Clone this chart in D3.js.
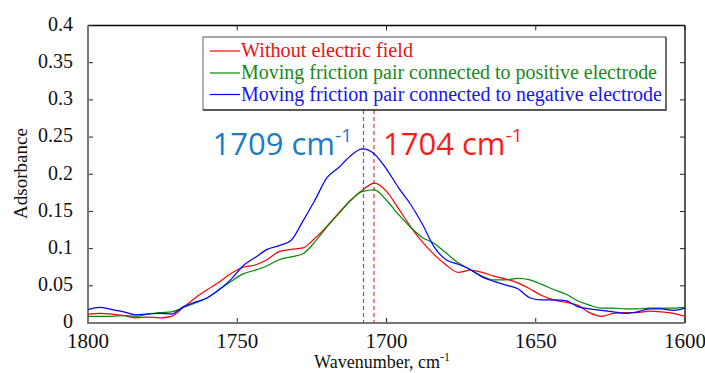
<!DOCTYPE html>
<html><head><meta charset="utf-8">
<script src="https://cdn.jsdelivr.net/npm/d3@7"></script>
<style>html,body{margin:0;padding:0;background:#fff;}svg{display:block;}</style>
</head><body>
<svg id="chart" width="705" height="373"></svg>
<script>
const wavenumbers = [1800,1796,1792,1788,1784,1780,1776,1772,1768,1764,1760,1756,1752,1748,1744,1740,1736,1732,1728,1724,1720,1716,1712,1708,1704,1700,1696,1692,1688,1684,1680,1676,1672,1668,1664,1660,1656,1652,1648,1644,1640,1636,1632,1628,1624,1620,1616,1612,1608,1604,1600];
const withoutField = [0.012,0.013,0.012,0.010,0.007,0.008,0.007,0.009,0.021,0.034,0.045,0.055,0.067,0.075,0.078,0.085,0.096,0.099,0.101,0.114,0.130,0.148,0.165,0.179,0.188,0.177,0.154,0.130,0.109,0.092,0.078,0.068,0.071,0.068,0.063,0.059,0.054,0.046,0.037,0.031,0.028,0.024,0.014,0.009,0.013,0.014,0.014,0.016,0.015,0.013,0.009];
const positiveElectrode = [0.009,0.009,0.009,0.010,0.009,0.012,0.014,0.015,0.021,0.027,0.034,0.045,0.056,0.066,0.071,0.077,0.085,0.089,0.093,0.109,0.129,0.147,0.165,0.177,0.179,0.165,0.146,0.129,0.115,0.107,0.094,0.081,0.072,0.063,0.058,0.058,0.060,0.058,0.052,0.045,0.039,0.030,0.024,0.020,0.020,0.019,0.019,0.020,0.020,0.020,0.021];
const negativeElectrode = [0.018,0.021,0.018,0.015,0.011,0.012,0.013,0.012,0.022,0.028,0.034,0.045,0.059,0.077,0.088,0.099,0.104,0.111,0.137,0.165,0.195,0.209,0.225,0.234,0.227,0.207,0.182,0.160,0.133,0.102,0.085,0.079,0.072,0.062,0.056,0.051,0.046,0.034,0.031,0.031,0.030,0.022,0.019,0.017,0.015,0.013,0.015,0.019,0.019,0.017,0.020];
const seriesNames = ["Without electric field","Moving friction pair connected to positive electrode","Moving friction pair connected to negative electrode"];
const seriesColors = ["#ff0000","#008a00","#0000ff"];
const legendColors = ["#ee1111","#1a8a1a","#1515ee"];
const xTicks = [1800,1750,1700,1650,1600];
const yTicks = [0,0.05,0.1,0.15,0.2,0.25,0.3,0.35,0.4];
const yTickLabels = ["0","0.05","0.1","0.15","0.2","0.25","0.3","0.35","0.4"];
const peakMarks = [{w:1707.7,label:"1709 cm",color:"#1a7cc8",dash:"#5555ee"},{w:1704.2,label:"1704 cm",color:"#ff1a1a",dash:"#ee3333"}];

const svg = d3.select("#chart");
const L=88,R=685,T=25.5,B=323;
const x = d3.scaleLinear().domain([1800,1600]).range([L,R]);
const y = d3.scaleLinear().domain([0,0.4]).range([B,T]);

svg.append("line").attr("x1",L).attr("x2",R).attr("y1",T).attr("y2",T).attr("stroke","#000").attr("stroke-width",1.3);
svg.append("line").attr("x1",R).attr("x2",R).attr("y1",T).attr("y2",B).attr("stroke","#000").attr("stroke-width",1.3);

const tickLen=5;
xTicks.forEach(t=>{
  svg.append("line").attr("x1",x(t)).attr("x2",x(t)).attr("y1",B).attr("y2",B-tickLen).attr("stroke","#222");
  svg.append("line").attr("x1",x(t)).attr("x2",x(t)).attr("y1",T).attr("y2",T+tickLen).attr("stroke","#222");
});
yTicks.forEach(t=>{
  svg.append("line").attr("x1",L).attr("x2",L+tickLen).attr("y1",y(t)).attr("y2",y(t)).attr("stroke","#222");
  svg.append("line").attr("x1",R).attr("x2",R-tickLen).attr("y1",y(t)).attr("y2",y(t)).attr("stroke","#222");
});

svg.append("line").attr("x1",L).attr("x2",L).attr("y1",T).attr("y2",B+1).attr("stroke","#777").attr("stroke-width",2);
svg.append("line").attr("x1",L-1).attr("x2",R).attr("y1",B).attr("y2",B).attr("stroke","#777").attr("stroke-width",2);

const serif = "'Liberation Serif','Times New Roman',serif";
yTicks.forEach((t,i)=>{
  svg.append("text").attr("x",73).attr("y",y(t)).attr("dy","0.27em").attr("text-anchor","end")
    .attr("font-family",serif).attr("font-size",20).attr("fill","#111").text(yTickLabels[i]);
});
xTicks.forEach(t=>{
  svg.append("text").attr("x",x(t)).attr("y",348).attr("text-anchor","middle")
    .attr("font-family",serif).attr("font-size",21).attr("fill","#111").text(t);
});

const xt = svg.append("text").attr("x",382).attr("y",368).attr("text-anchor","middle")
  .attr("font-family",serif).attr("font-size",18).attr("fill","#111");
xt.append("tspan").text("Wavenumber, cm");
xt.append("tspan").attr("dy",-7).attr("font-size",12).text("-1");
svg.append("text").attr("transform","translate(27,173.5) rotate(-90)").attr("text-anchor","middle")
  .attr("font-family",serif).attr("font-size",19).attr("fill","#111").text("Adsorbance");

peakMarks.forEach(p=>{
  svg.append("line").attr("x1",x(p.w)).attr("x2",x(p.w)).attr("y1",110).attr("y2",B)
    .attr("stroke",p.dash).attr("stroke-width",1.2).attr("stroke-dasharray","4,3");
});

const seriesData=[withoutField,positiveElectrode,negativeElectrode];
const line = d3.line().x((d,i)=>x(wavenumbers[i])).y(d=>y(d)).curve(d3.curveMonotoneX);
seriesData.forEach((s,k)=>{
  svg.append("path").datum(s).attr("d",line).attr("fill","none")
    .attr("stroke",seriesColors[k]).attr("stroke-width",1.2).attr("stroke-linejoin","round");
});

const sans = "'Open Sans','Noto Sans',sans-serif";
const annX=[212.5,383];
peakMarks.forEach((p,i)=>{
  const t = svg.append("text").attr("x",annX[i]).attr("y",155).attr("font-family",sans)
    .attr("font-size",31).attr("fill",p.color);
  t.append("tspan").text(p.label);
  t.append("tspan").attr("dy",-13).attr("font-size",19).text("-1");
});

const lg = svg.append("g");
lg.append("rect").attr("x",203).attr("y",37).attr("width",463).attr("height",73).attr("fill","#fff").attr("stroke","none");
lg.append("path").attr("d","M203,110 L203,37 L666,37").attr("fill","none").attr("stroke","#888").attr("stroke-width",1.3);
lg.append("path").attr("d","M666,37 L666,110 L203,110").attr("fill","none").attr("stroke","#222").attr("stroke-width",1.3);
const rowY=[57,79,100.5];
const rowW=[172,416,421];
seriesNames.forEach((n,k)=>{
  lg.append("line").attr("x1",210).attr("x2",240).attr("y1",rowY[k]-6).attr("y2",rowY[k]-6)
    .attr("stroke",seriesColors[k]).attr("stroke-width",1.2);
  lg.append("text").attr("x",241).attr("y",rowY[k]).attr("font-family",serif).attr("font-size",20)
    .attr("textLength",rowW[k]).attr("lengthAdjust","spacingAndGlyphs")
    .attr("fill",legendColors[k]).text(n);
});
</script>
</body></html>
